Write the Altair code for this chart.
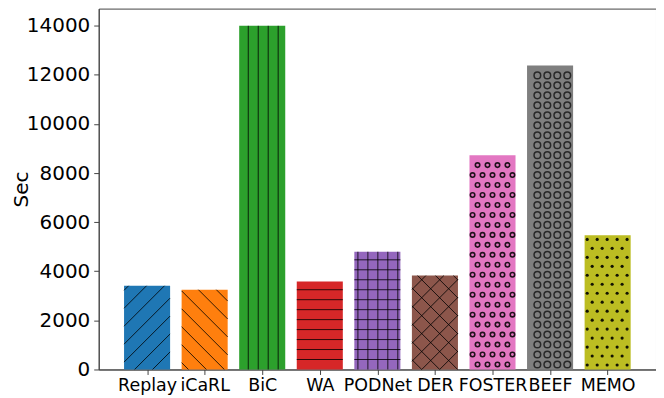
import json
import math
import altair as alt
import pandas as pd

# ---- data ----
methods = ["Replay", "iCaRL", "BiC", "WA", "PODNet", "DER", "FOSTER", "BEEF", "MEMO"]
seconds = [3410, 3250, 14000, 3585, 4795, 3825, 8730, 12385, 5470]
colors = ["#1f77b4", "#ff7f0e", "#2ca02c", "#d62728", "#9467bd",
          "#8c564b", "#e377c2", "#7f7f7f", "#bcbd22"]
hatches = ["/", "\\", "|", "-", "+", "x", "o", "O", "."]
y_ticks = [0, 2000, 4000, 6000, 8000, 10000, 12000, 14000]

# ---- layout ----
W, H = 559, 362
XDOM = [-0.84, 8.84]
YDOM = [0, 14700]
sx = W / (XDOM[1] - XDOM[0])
sy = H / (YDOM[1] - YDOM[0])
FONT = "DejaVu Sans"


def dx(px):
    return XDOM[0] + px / sx


def dy(py):
    return YDOM[0] + py / sy


bars = pd.DataFrame({
    "method": methods,
    "idx": list(range(len(methods))),
    "sec": seconds,
})
bars["x0"] = bars["idx"] - 0.4
bars["x1"] = bars["idx"] + 0.4

# ---- hatch decoration derived from each bar's rectangle ----
rules = []
rings_small, rings_big, dots = [], [], []
for i, (v, h) in enumerate(zip(seconds, hatches)):
    L = (i - 0.4 - XDOM[0]) * sx
    R = (i + 0.4 - XDOM[0]) * sx
    B = 0.0
    T = v * sy

    def add(xa, ya, xb, yb):
        rules.append({"x": dx(xa), "x2": dx(xb), "y": dy(ya), "y2": dy(yb)})

    if h in "|+":
        k = math.floor(L / 10) + 1
        while k * 10 < R - 0.5:
            add(k * 10, B, k * 10, T)
            k += 1
    if h in "-+":
        k = 1
        while k * 10 < T - 0.5:
            add(L, k * 10, R, k * 10)
            k += 1
    if h in "/x":
        sp = 18
        b = math.floor((B - R) / sp) * sp
        while b < T - L:
            xa = max(L, B - b)
            xb = min(R, T - b)
            if xb - xa > 0.5:
                add(xa, xa + b, xb, xb + b)
            b += sp
    if h in "\\x":
        sp = 18
        b = math.floor((L + B) / sp) * sp
        while b < R + T:
            xa = max(L, b - T)
            xb = min(R, b - B)
            if xb - xa > 0.5:
                add(xa, -xa + b, xb, -xb + b)
            b += sp
    if h in "oO.":
        if h == "o":
            sxp, syp, stag, r, target = 10, 10, True, 3.0, rings_small
        elif h == "O":
            sxp, syp, stag, r, target = 10, 10, False, 4.5, rings_big
        else:
            sxp, syp, stag, r, target = 10, 9, True, 1.6, dots
        row = 0
        y = syp / 2
        while y < T - r:
            off = (sxp / 2) if (stag and row % 2 == 1) else 0
            x = math.floor(L / sxp) * sxp + off
            while x < R:
                if x > L + r - 0.5 and x < R - r + 0.5:
                    target.append({"x": dx(x), "y": dy(y)})
                x += sxp
            y += syp
            row += 1

rules_df = pd.DataFrame(rules)
small_df = pd.DataFrame(rings_small)
big_df = pd.DataFrame(rings_big)
dots_df = pd.DataFrame(dots)

xscale = alt.Scale(domain=XDOM, nice=False, zero=False)
yscale = alt.Scale(domain=YDOM, nice=False)

label_expr = json.dumps(methods) + "[datum.value]"

x_axis = alt.Axis(values=list(range(len(methods))), labelExpr=label_expr, title=None,
                  grid=False, tickSize=5, labelFontSize=17.5, labelFont=FONT,
                  labelColor="black", tickColor="#444", domainColor="#444",
                  labelPadding=2, labelOverlap=False, labelFlush=False)
y_axis = alt.Axis(values=y_ticks, format="d", title="Sec", titleFontSize=20,
                  titleFontWeight="normal", titleFont=FONT, titleColor="black",
                  titleX=-71, titleY=H / 2, titleAngle=270, titleAlign="center",
                  titleBaseline="alphabetic",
                  labelFontSize=20, labelFont=FONT, labelColor="black",
                  tickSize=5, grid=False, labelPadding=4, tickColor="#444",
                  domainColor="#444")


def X(field):
    return alt.X(field, scale=xscale, axis=x_axis)


def Y(field):
    return alt.Y(field, scale=yscale, axis=y_axis)


bar_layer = alt.Chart(bars).mark_bar(strokeWidth=0).encode(
    x=X("x0:Q"),
    x2="x1:Q",
    y=Y("sec:Q"),
    y2=alt.datum(0),
    color=alt.Color("method:N", scale=alt.Scale(domain=methods, range=colors), legend=None),
)

rule_layer = alt.Chart(rules_df).mark_rule(color="black", strokeWidth=1, opacity=0.8).encode(
    x=X("x:Q"),
    x2="x2:Q",
    y=Y("y:Q"),
    y2="y2:Q",
)

small_layer = alt.Chart(small_df).mark_point(shape="circle", filled=False, color="black",
                                               strokeWidth=1.6, size=20, opacity=0.85).encode(
    x=X("x:Q"),
    y=Y("y:Q"),
)

big_layer = alt.Chart(big_df).mark_point(shape="circle", filled=False, color="#1a1a1a",
                                           strokeWidth=1.5, size=44, opacity=0.85).encode(
    x=X("x:Q"),
    y=Y("y:Q"),
)

dot_layer = alt.Chart(dots_df).mark_circle(color="black", size=10, opacity=0.9).encode(
    x=X("x:Q"),
    y=Y("y:Q"),
)

chart = alt.layer(bar_layer, rule_layer, small_layer, big_layer, dot_layer).properties(
    width=W, height=H,
    autosize=alt.AutoSizeParams(type="none"),
    padding={"left": 91, "top": 0, "right": 0, "bottom": 26},
    background="white",
).configure_view(stroke="#444", strokeWidth=1)

chart.save("out.html", embed_options={"renderer": "svg", "actions": False})
